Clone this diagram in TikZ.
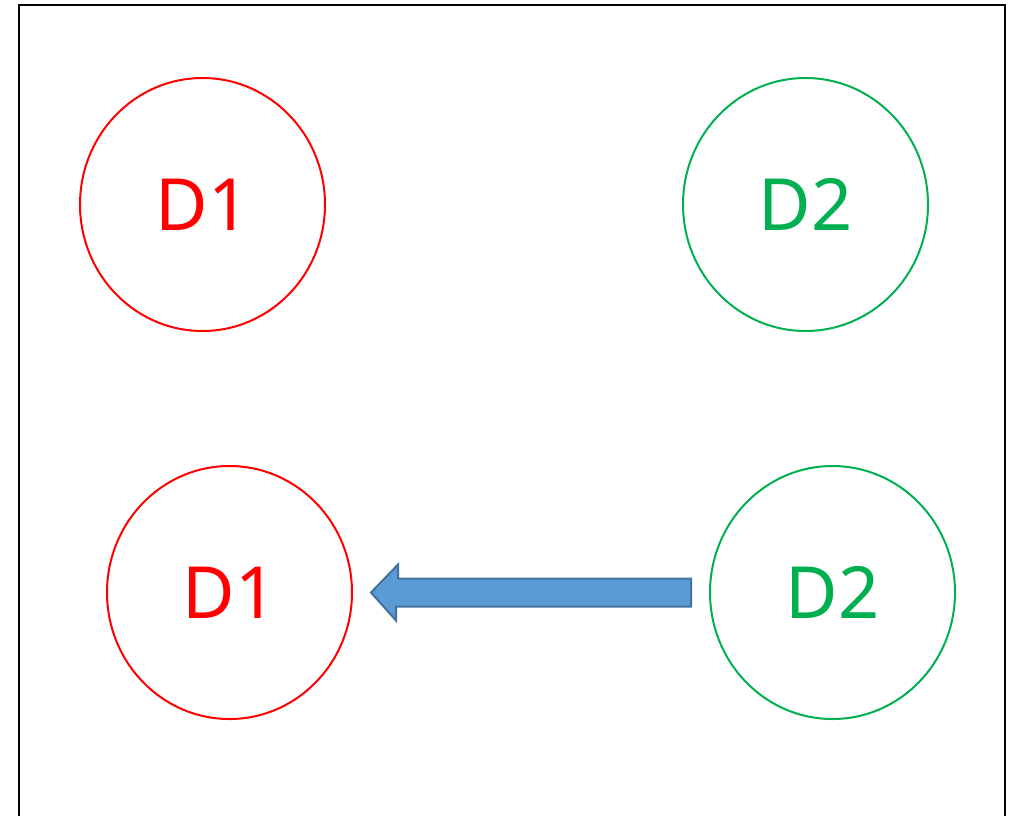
\documentclass[tikz,border=0pt]{standalone}
\usepackage{fontspec}
\setmainfont{Noto Sans}
\usetikzlibrary{shapes.geometric}
\definecolor{dred}{RGB}{255,0,0}
\definecolor{dgreen}{RGB}{0,176,80}
\definecolor{afill}{RGB}{91,155,213}
\definecolor{aline}{RGB}{65,113,156}
\begin{document}
\begin{tikzpicture}[x=0.75pt,y=-0.75pt,
  disk/.style={ellipse,minimum width=245*0.75pt,minimum height=253*0.75pt,inner sep=0pt,line width=1.5pt,font=\fontsize{54}{58}\selectfont},
  rdisk/.style={disk,draw=dred,text=dred},
  gdisk/.style={disk,draw=dgreen,text=dgreen},
  blockarrow/.style={fill=afill,draw=aline,line width=1.5pt,line join=miter}]
\useasboundingbox (0,0) rectangle (1020,815);
\begin{scope}
\clip (0,0) rectangle (1020,815);
\draw[line width=2pt] (19,840) -- (19,5) -- (1005,5) -- (1005,840);
\end{scope}
\node[rdisk] (d1a) at (202.5,204.5) {D1};
\node[gdisk] (d2a) at (805.5,204.5) {D2};
\node[rdisk] (d1b) at (229.5,592.5) {D1};
\node[gdisk] (d2b) at (832.5,592.5) {D2};
\coordinate (tail) at ([xshift=-18*0.75pt]d2b.west);
\coordinate (tip) at ([xshift=18*0.75pt]d1b.east);
\draw[blockarrow] (tip) -- ++(27,-28) -- ++(0,14) coordinate (s1) -- (s1 -| tail) -- ++(0,28) -- ++(397-692,0) -- ++(0,14) -- cycle;
\end{tikzpicture}
\end{document}
